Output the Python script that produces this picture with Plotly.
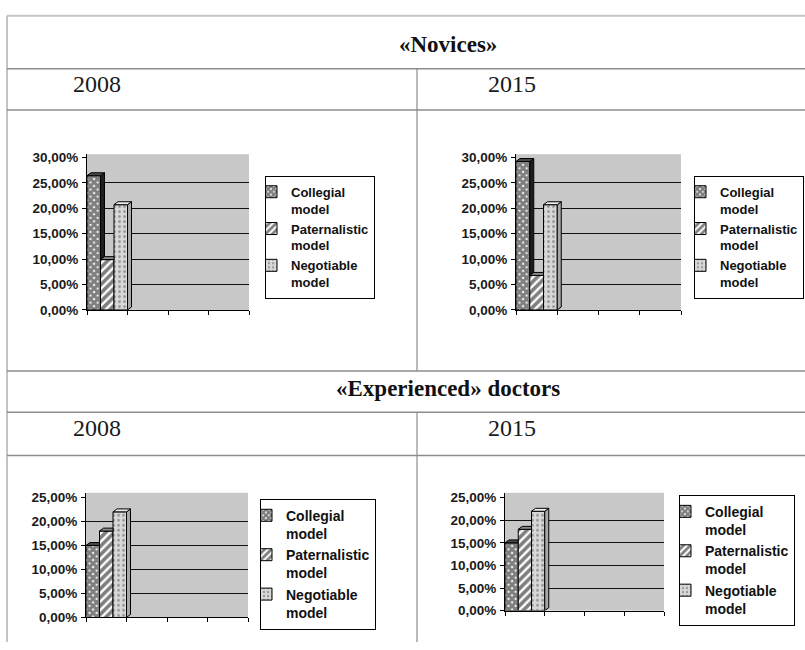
import plotly.graph_objects as go

W, H = 805, 650

# ---- data -------------------------------------------------------------
models = ["Collegial model", "Paternalistic model", "Negotiable model"]
legend_labels = ["Collegial<br>model", "Paternalistic<br>model", "Negotiable<br>model"]

novices_2008 = [26.4, 9.9, 20.7]
novices_2015 = [29.2, 6.8, 20.7]
experienced_2008 = [15.0, 18.0, 22.0]
experienced_2015 = [15.0, 18.0, 22.0]

ticks_30 = [0, 5, 10, 15, 20, 25, 30]
ticks_25 = [0, 5, 10, 15, 20, 25]

group_titles = ["«Novices»", "«Experienced» doctors"]
years = ["2008", "2015"]

# ---- styling ----------------------------------------------------------
patterns = [
    dict(shape="x", fgcolor="#000000", bgcolor="#ffffff", size=5, solidity=0.85),
    dict(shape="/", fgcolor="#000000", bgcolor="#ffffff", size=6, solidity=0.6),
    dict(shape=".", fgcolor="#555555", bgcolor="#d8d8d8", size=5, solidity=0.25),
]
top_colors = ["#4a4a4a", "#8a8a8a", "#eeeeee"]
side_colors = ["#1e1e1e", "#555555", "#a8a8a8"]


def px_x(p):
    return p / W


def px_y(p):
    return 1 - p / H


# panel placement (pixels): left, right, top of wall, zero line, px per 1 %
panels = [
    dict(vals=novices_2008, ticks=ticks_30, x0=87, x1=249, ytop=153, yzero=311.7, ppu=5.18,
         leg=(265, 175), anchor="left", fsize=13),
    dict(vals=novices_2015, ticks=ticks_30, x0=516, x1=681, ytop=153, yzero=311.7, ppu=5.18,
         leg=(804, 175), anchor="right", fsize=13),
    dict(vals=experienced_2008, ticks=ticks_25, x0=86, x1=248, ytop=498, yzero=625, ppu=4.89,
         leg=(260, 504), anchor="left", fsize=14),
    dict(vals=experienced_2015, ticks=ticks_25, x0=505, x1=664, ytop=498, yzero=618, ppu=4.6,
         leg=(679, 500), anchor="left", fsize=14),
]

fig = go.Figure()
n_cat = 4
bar_w = 1 / 3
depth_px = (4, 3)

for k, p in enumerate(panels):
    sfx = "" if k == 0 else str(k + 1)
    xa, ya = "x" + sfx, "y" + sfx
    leg = "legend" + sfx
    ymax = (p["yzero"] - p["ytop"]) / p["ppu"]
    dx = depth_px[0] * n_cat / (p["x1"] - p["x0"])
    dy = depth_px[1] / p["ppu"]

    vals = p["vals"]
    for i, v in enumerate(vals):
        xc = bar_w * (i + 0.5)
        fig.add_trace(go.Bar(
            x=[xc], y=[v], width=bar_w, name=legend_labels[i],
            marker=dict(pattern=patterns[i], line=dict(color="#000000", width=1)),
            xaxis=xa, yaxis=ya, legend=leg, showlegend=True,
            hovertemplate=models[i] + ": %{y:.1f}%<extra></extra>",
        ))

    # depth faces of each column, derived from the same values
    for i, v in enumerate(vals):
        xl = bar_w * i
        xr = bar_w * (i + 1)
        nxt = vals[i + 1] if i + 1 < len(vals) else None
        if nxt is None or nxt < v:
            lo = 0 if nxt is None else nxt
            fig.add_trace(go.Scatter(
                x=[xr, xr + dx, xr + dx, xr, xr], y=[lo, lo + dy, v + dy, v, lo],
                mode="lines", fill="toself", fillcolor=side_colors[i],
                line=dict(color="#000000", width=1), xaxis=xa, yaxis=ya,
                showlegend=False, hoverinfo="skip"))
            tx = [xl, xr, xr + dx, xl + dx, xl]
            ty = [v, v, v + dy, v + dy, v]
        else:
            tx = [xl, xr, xr, xl + dx, xl]
            ty = [v, v, v + dy, v + dy, v]
        fig.add_trace(go.Scatter(
            x=tx, y=ty, mode="lines", fill="toself", fillcolor=top_colors[i],
            line=dict(color="#000000", width=1), xaxis=xa, yaxis=ya,
            showlegend=False, hoverinfo="skip"))

    tick_text = [f"{t:.2f}".replace(".", ",") + "%" for t in p["ticks"]]
    fig.layout["xaxis" + sfx] = dict(
        domain=[px_x(p["x0"]), px_x(p["x1"])], anchor=ya, range=[0, n_cat],
        tickvals=list(range(n_cat + 1)), ticks="outside", ticklen=4, tickcolor="#000000",
        showticklabels=False, showline=True, linecolor="#000000", linewidth=1,
        showgrid=False, zeroline=False, fixedrange=True,
    )
    fig.layout["yaxis" + sfx] = dict(
        domain=[px_y(p["yzero"]), px_y(p["ytop"])], anchor=xa, range=[0, ymax],
        tickvals=p["ticks"], ticktext=tick_text, ticks="outside", ticklen=4,
        tickcolor="#000000", tickfont=dict(family="Arial, Liberation Sans", size=13.5,
                                           color="#1a1a1a", weight="bold"),
        ticklabelstandoff=1,
        showline=True, linecolor="#000000", linewidth=1, showgrid=False, zeroline=False,
        minor=dict(tickvals=p["ticks"][1:-1], showgrid=True, gridcolor="#111111",
                   gridwidth=1),
        fixedrange=True,
    )
    fig.layout[leg] = dict(
        x=px_x(p["leg"][0]), y=px_y(p["leg"][1]), xanchor=p["anchor"], yanchor="top",
        bgcolor="#ffffff", bordercolor="#000000", borderwidth=1,
        font=dict(family="Arial, Liberation Sans", size=p["fsize"], color="#111111",
                  weight="bold"),
        itemwidth=30, indentation=-15, tracegroupgap=0, valign="top",
    )

# ---- table frame ------------------------------------------------------
shapes = []
frame = "#c4c4c4"
rule = "#8c8c8c"
shapes.append(dict(type="line", xref="paper", yref="paper", x0=px_x(7), x1=1,
                   y0=px_y(12), y1=px_y(12), line=dict(color=frame, width=2)))
shapes.append(dict(type="line", xref="paper", yref="paper", x0=px_x(7), x1=px_x(7),
                   y0=px_y(12), y1=0, line=dict(color=frame, width=2)))
for yy in [66, 108, 374, 416, 460]:
    shapes.append(dict(type="line", xref="paper", yref="paper", x0=px_x(7), x1=1,
                       y0=px_y(yy), y1=px_y(yy), line=dict(color=rule, width=1.5)))
for (ya0, ya1) in [(66, 374), (416, H)]:
    shapes.append(dict(type="line", xref="paper", yref="paper", x0=px_x(417), x1=px_x(417),
                       y0=px_y(ya0), y1=px_y(ya1), line=dict(color=rule, width=1.2)))

serif = "Times New Roman, Liberation Serif, serif"
annotations = []
for title, yy in zip(group_titles, [41, 392]):
    annotations.append(dict(text="<b>" + title + "</b>", x=px_x(448), y=px_y(yy),
                            xref="paper", yref="paper", showarrow=False,
                            xanchor="center", yanchor="middle",
                            font=dict(family=serif, size=23, color="#111111")))
for yy in [82, 432]:
    for yr, xx in zip(years, [97, 512]):
        annotations.append(dict(text=yr, x=px_x(xx), y=px_y(yy), xref="paper",
                                yref="paper", showarrow=False, xanchor="center",
                                yanchor="middle",
                                font=dict(family=serif, size=24, color="#1a1a1a")))

fig.update_layout(
    width=W, height=H, margin=dict(l=0, r=0, t=0, b=0),
    paper_bgcolor="#ffffff", plot_bgcolor="#c8c8c8",
    barmode="overlay", shapes=shapes, annotations=annotations,
)

fig.write_html("out.html")
